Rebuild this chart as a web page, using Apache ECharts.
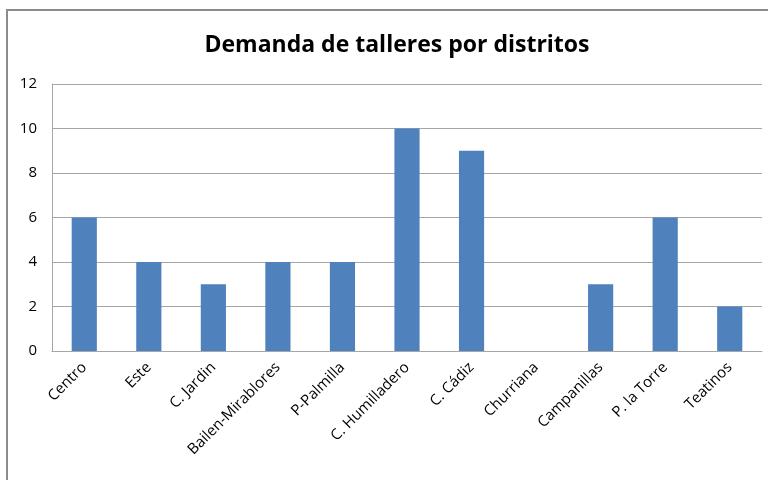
<!DOCTYPE html>
<html>
<head>
<meta charset="utf-8">
<script src="https://cdn.jsdelivr.net/npm/echarts@6/dist/echarts.min.js"></script>
<style>
  html, body { margin: 0; padding: 0; background: #fff; }
  #chart { width: 768px; height: 480px; }
</style>
</head>
<body>
<div id="chart"></div>
<script>
// distritos y demanda
const distritos = ['Centro', 'Este', 'C. Jardin', 'Bailen-Mirablores', 'P-Palmilla', 'C. Humilladero',
  'C. Cádiz', 'Churriana', 'Campanillas', 'P. la Torre', 'Teatinos'];
const demanda = [6, 4, 3, 4, 4, 10, 9, 0, 3, 6, 2];
const yTicks = [0, 2, 4, 6, 8, 10, 12];

const chart = echarts.init(document.getElementById('chart'));
const option = {
  animation: false,
  title: {
    text: 'Demanda de talleres por distritos',
    left: 392,
    top: 29,
    textAlign: 'center',
    textStyle: { fontFamily: 'Open Sans', fontSize: 23, fontWeight: 'bold', color: '#000' }
  },
  // borde exterior del grafico
  graphic: [{
    type: 'rect',
    shape: { x: 7, y: 10, width: 800, height: 500 },
    style: { fill: 'none', stroke: '#8c8c8c', lineWidth: 2 }
  }],
  grid: { left: 52, right: 6, top: 84, bottom: 129 },
  xAxis: {
    type: 'category',
    data: distritos,
    axisLine: { lineStyle: { color: '#a6a6a6' } },
    axisTick: { show: false },
    axisLabel: {
      rotate: 45,
      interval: 0,
      margin: 14,
      fontFamily: 'Open Sans',
      fontSize: 15,
      color: '#000'
    }
  },
  yAxis: {
    type: 'value',
    min: yTicks[0],
    max: yTicks[yTicks.length - 1],
    interval: 2,
    axisLine: { show: true, lineStyle: { color: '#a6a6a6' } },
    axisTick: { show: false },
    splitLine: { lineStyle: { color: '#a6a6a6' } },
    axisLabel: { fontFamily: 'Open Sans', fontSize: 15, color: '#000', margin: 15 }
  },
  series: [{
    type: 'bar',
    data: demanda,
    barWidth: '39%',
    itemStyle: { color: '#4f81bd' }
  }]
};
chart.setOption(option);
</script>
</body>
</html>
